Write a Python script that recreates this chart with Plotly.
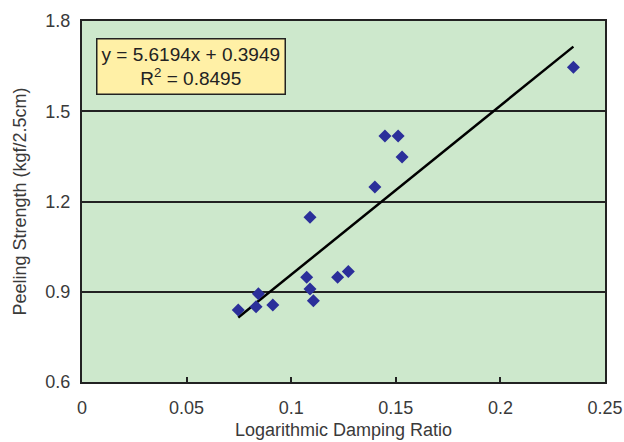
import plotly.graph_objects as go

# Data
damping_ratio = [0.0747, 0.0832, 0.0843, 0.0912, 0.1074, 0.1090, 0.1090, 0.1106,
                 0.1222, 0.1273, 0.1400, 0.1448, 0.1511, 0.1530, 0.2349]
peeling_strength = [0.839, 0.850, 0.893, 0.856, 0.948, 0.909, 1.148, 0.870,
                    0.948, 0.967, 1.248, 1.418, 1.418, 1.348, 1.646]

slope = 5.6194
intercept = 0.3949
r_squared = 0.8495

x_ticks = [0, 0.05, 0.1, 0.15, 0.2, 0.25]
x_tick_labels = ["0", "0.05", "0.1", "0.15", "0.2", "0.25"]
y_ticks = [0.6, 0.9, 1.2, 1.5, 1.8]
y_tick_labels = ["0.6", "0.9", "1.2", "1.5", "1.8"]

x_line = [min(damping_ratio), max(damping_ratio)]
y_line = [slope * v + intercept for v in x_line]

FONT = "Arial, 'Liberation Sans', sans-serif"

fig = go.Figure()
fig.add_trace(go.Scatter(
    x=x_line, y=y_line, mode="lines",
    line=dict(color="black", width=2.5), hoverinfo="skip", showlegend=False))
fig.add_trace(go.Scatter(
    x=damping_ratio, y=peeling_strength, mode="markers",
    marker=dict(symbol="diamond", size=10, color="#2B2F9A", line=dict(width=0)),
    showlegend=False))

fig.add_annotation(
    xref="paper", yref="paper", x=0.208, y=0.875,
    xanchor="center", yanchor="middle",
    text=f"y = {slope}x + {intercept}<br>R<sup>2</sup> = {r_squared}",
    showarrow=False, align="center",
    font=dict(family=FONT, size=19, color="#222"),
    bgcolor="#FFF0A6", bordercolor="#222", borderwidth=1.5, borderpad=4)

fig.update_layout(
    width=624, height=442,
    margin=dict(l=82, r=19, t=21, b=60, autoexpand=False),
    paper_bgcolor="white", plot_bgcolor="#CDE8CC",
    font=dict(family=FONT, size=18, color="#3a3a3a"),
    showlegend=False,
)
fig.update_xaxes(
    range=[0, 0.25], tickvals=x_ticks, ticktext=x_tick_labels,
    showgrid=False, zeroline=False, automargin=False,
    showline=True, linecolor="#222", linewidth=2, mirror=True,
    ticks="inside", ticklen=5, tickcolor="#222", tickwidth=1.5,
    ticklabelstandoff=8,
    title=dict(text="Logarithmic Damping Ratio", font=dict(size=18, color="#3a3a3a"), standoff=7),
)
fig.update_yaxes(
    range=[0.6, 1.8], tickvals=y_ticks, ticktext=y_tick_labels,
    showgrid=True, gridcolor="#222", gridwidth=1.5, zeroline=False, automargin=False,
    showline=True, linecolor="#222", linewidth=2, mirror=True,
    ticks="inside", ticklen=5, tickcolor="#222", tickwidth=1.5,
    ticklabelstandoff=6,
    title=dict(text="Peeling Strength (kgf/2.5cm)", font=dict(size=18, color="#3a3a3a"), standoff=14),
)

fig.write_html("out.html")
